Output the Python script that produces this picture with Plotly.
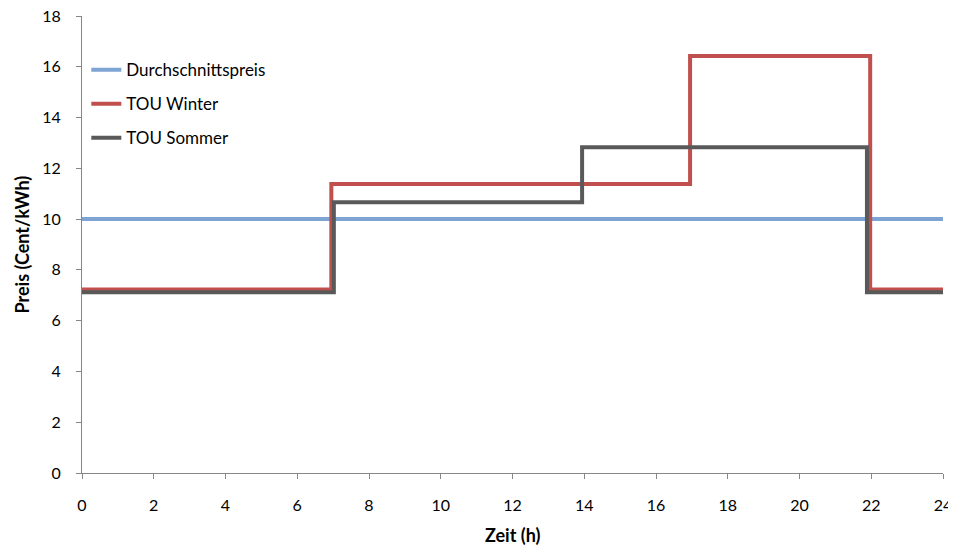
import plotly.graph_objects as go

# Stufenpreise (Stundenwerte der Stufenwechsel)
avg_x = [0, 24]
avg_y = [10.0, 10.0]

winter_x = [0, 6.95, 16.95, 21.97, 24]
winter_y = [7.23, 11.38, 16.42, 7.23, 7.23]

sommer_x = [0, 7.02, 13.94, 21.88, 24]
sommer_y = [7.12, 10.66, 12.83, 7.12, 7.12]

FONT = "Lato"
AX = "#868686"

fig = go.Figure()
fig.add_trace(go.Scatter(x=avg_x, y=avg_y, mode="lines", name="Durchschnittspreis",
                         legendgroup="a", line=dict(color="#7EA4D4", width=4)))
fig.add_trace(go.Scatter(x=winter_x, y=winter_y, mode="lines", name="TOU Winter",
                         legendgroup="b", line=dict(color="#C0504D", width=4, shape="hv")))
fig.add_trace(go.Scatter(x=sommer_x, y=sommer_y, mode="lines", name="TOU Sommer",
                         legendgroup="c", line=dict(color="#595959", width=4, shape="hv")))

# the page body has an 8px margin, so the figure is smaller than the window
fig.update_layout(
    width=948, height=537,
    margin=dict(l=74, r=13, t=8, b=72),
    plot_bgcolor="white", paper_bgcolor="white",
    font=dict(family=FONT, size=16, color="#000000"),
    legend=dict(x=0.005, y=0.921, xanchor="left", yanchor="top",
                bgcolor="rgba(0,0,0,0)", font=dict(size=17),
                tracegroupgap=9),
    xaxis=dict(range=[0, 24], tickvals=list(range(0, 25, 2)), showgrid=False,
               zeroline=False, showline=True, linecolor=AX, linewidth=1,
               ticks="outside", ticklen=5, tickcolor=AX, automargin=False,
               ticklabelstandoff=13, ticklabeloverflow="allow"),
    yaxis=dict(range=[0, 18], tickvals=list(range(0, 19, 2)), showgrid=False,
               zeroline=False, showline=True, linecolor=AX, linewidth=1,
               ticks="outside", ticklen=5, tickcolor=AX, automargin=False,
               ticklabelstandoff=12, ticklabeloverflow="allow"),
    annotations=[
        dict(text="<b>Zeit (h)</b>", xref="paper", yref="paper", x=0.5, y=0,
             yshift=-62, showarrow=False, xanchor="center", yanchor="middle",
             font=dict(size=18)),
        dict(text="<b>Preis (Cent/kWh)</b>", xref="paper", yref="paper", x=0, y=0.5,
             xshift=-61, showarrow=False, xanchor="center", yanchor="middle",
             textangle=-90, font=dict(size=18)),
    ],
)

fig.write_html("out.html")
